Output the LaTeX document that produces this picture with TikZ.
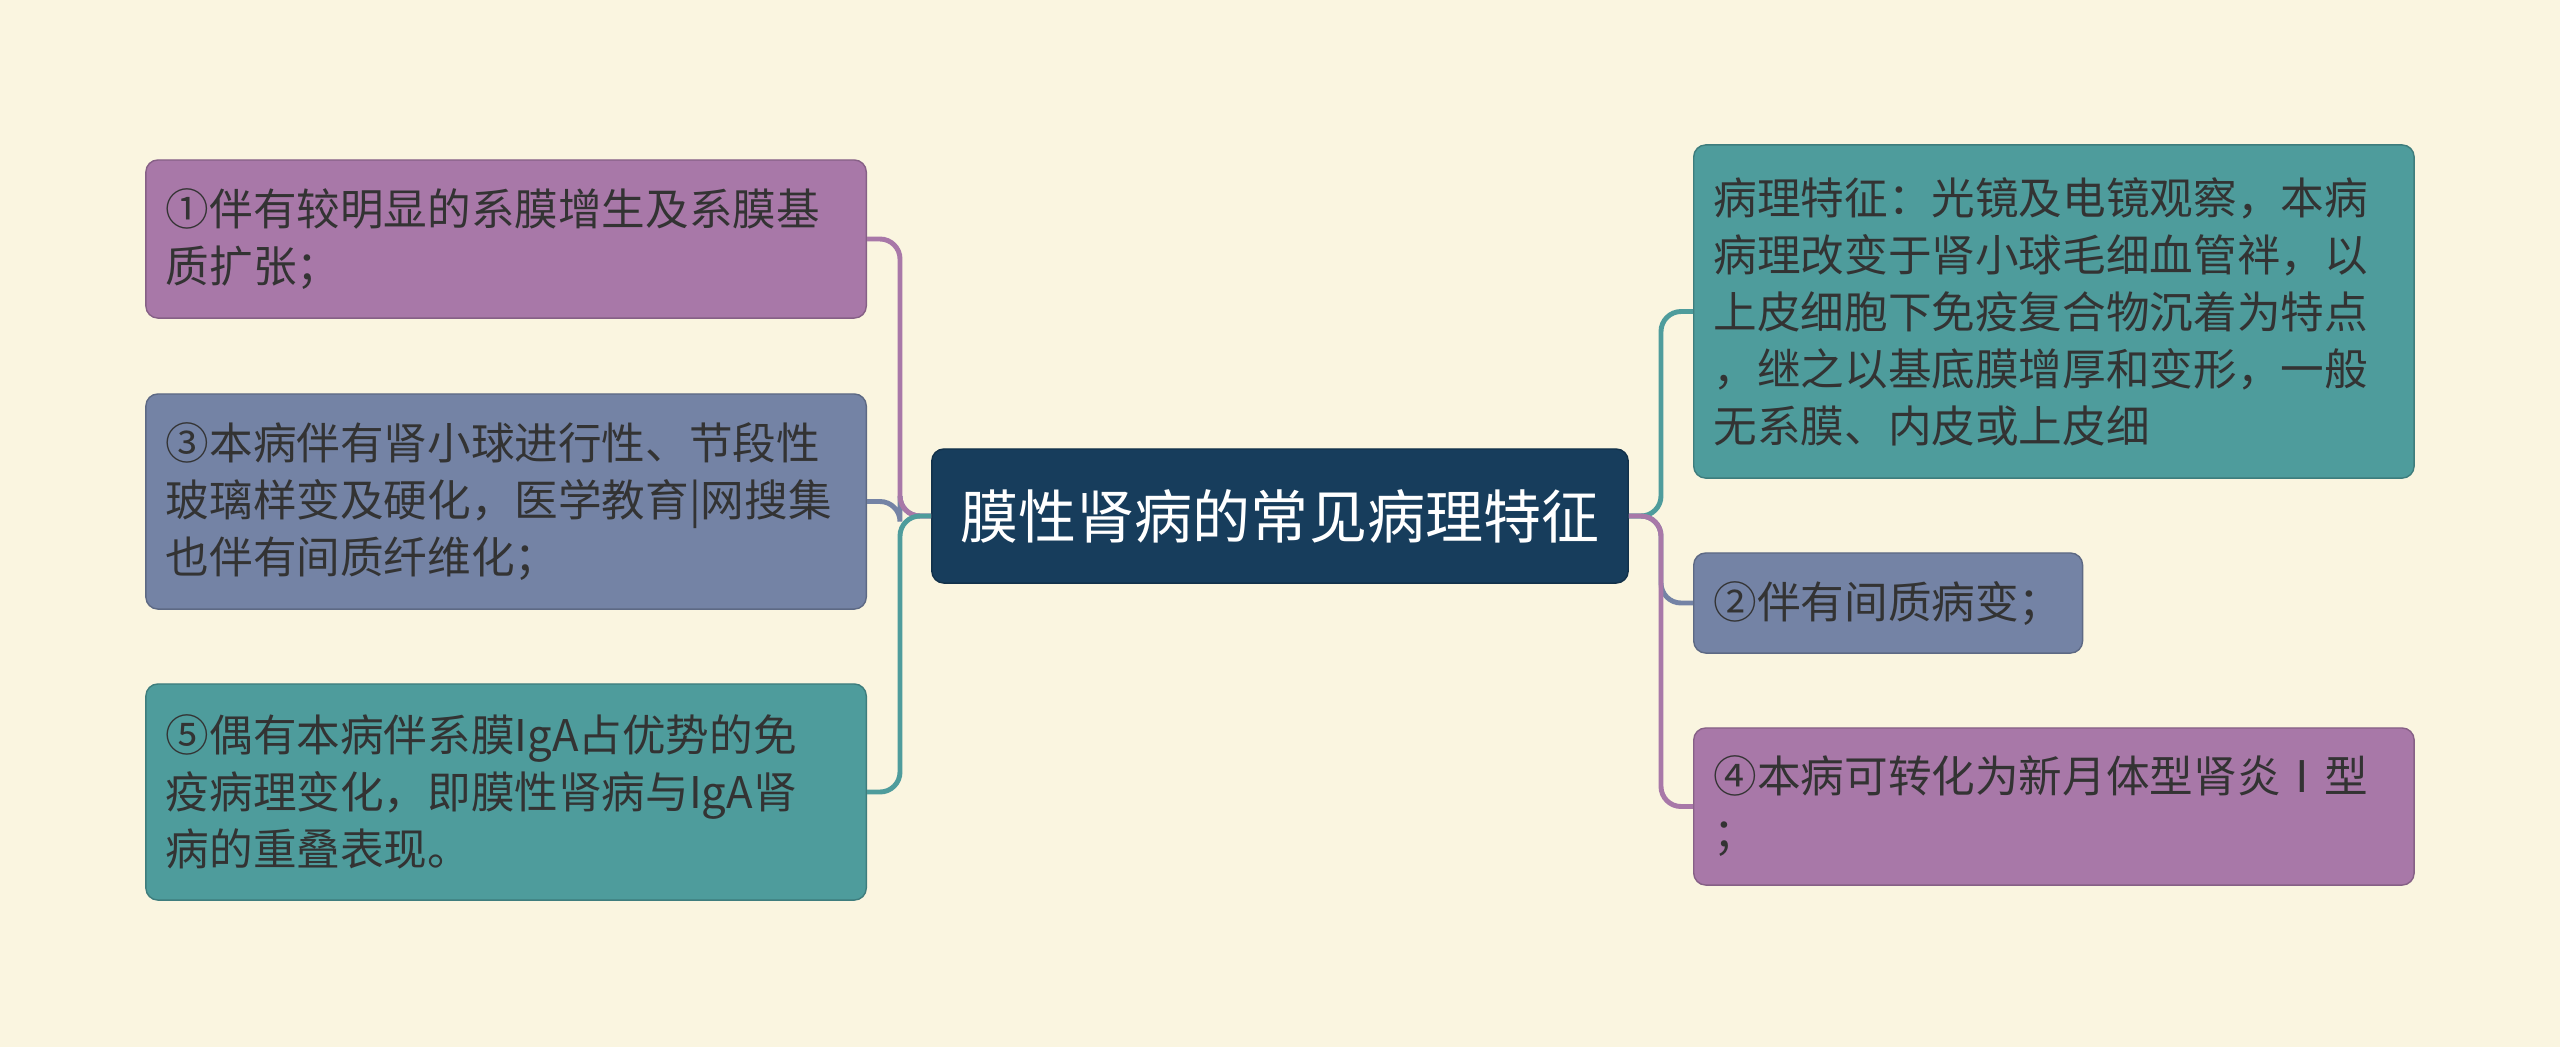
\documentclass[tikz,border=0pt]{standalone}
\usepackage{fontspec}
\newfontfamily\cjk{Noto Sans CJK SC}
\definecolor{bgcream}{RGB}{250, 245, 224}
\definecolor{leafpurple}{RGB}{168, 120, 168}
\definecolor{leafslate}{RGB}{116, 131, 165}
\definecolor{leafteal}{RGB}{78, 156, 156}
\definecolor{rootnavy}{RGB}{23, 61, 92}
\definecolor{textdark}{RGB}{51, 51, 51}
\usetikzlibrary{positioning}
\tikzset{
  leaf/.style={rounded corners=0.12cm, inner xsep=0.2cm, inner ysep=0cm, align=left,
    text=textdark, line width=0.4pt, font=\cjk\fontsize{12.4pt}{16.2pt}\selectfont},
  leafwide/.style={leaf, text width=6.8cm},
  branch/.style={line width=1.4pt, rounded corners=0.2cm},
}

\begin{document}
\begin{tikzpicture}[x=0.01cm, y=-0.01cm]
  \fill[bgcream] (0,0) rectangle (2560,1047);
  \useasboundingbox (0,0) rectangle (2560,1047);

  % Root
  \node[fill=rootnavy, draw=rootnavy!80!black, rounded corners=0.12cm, minimum width=6.96cm, minimum height=1.34cm,
    text=white, font=\cjk\fontsize{16.5pt}{20pt}\selectfont] (root) at (1280,516) {膜性肾病的常见病理特征};

  % Left side
  \node[leafwide, fill=leafpurple, draw=leafpurple!80!black, minimum height=1.58cm, anchor=east] (lone) at (867,239) {
    ①伴有较明显的系膜增生及系膜基\\质扩张；};
  \node[leafwide, fill=leafslate, draw=leafslate!80!black, minimum height=2.15cm, anchor=east] (lthree) at (867,501.5) {
    ③本病伴有肾小球进行性、节段性\\玻璃样变及硬化，医学教育|网搜集\\也伴有间质纤维化；};
  \node[leafwide, fill=leafteal, draw=leafteal!80!black, minimum height=2.16cm, anchor=east] (lfive) at (867,792) {
    ⑤偶有本病伴系膜IgA占优势的免\\疫病理变化，即膜性肾病与IgA肾\\病的重叠表现。};

  % Right side
  \node[leafwide, fill=leafteal, draw=leafteal!80!black, minimum height=3.33cm, anchor=west] (rfeat) at (1693,311.5) {
    病理特征：光镜及电镜观察，本病\\病理改变于肾小球毛细血管袢，以\\上皮细胞下免疫复合物沉着为特点\\，继之以基底膜增厚和变形，一般\\无系膜、内皮或上皮细};
  \node[leaf, fill=leafslate, draw=leafslate!80!black, minimum height=1.0cm, anchor=west] (rtwo) at (1693,603) {
    ②伴有间质病变；};
  \node[leafwide, fill=leafpurple, draw=leafpurple!80!black, minimum height=1.57cm, anchor=west] (rfour) at (1693,806.5) {
    ④本病可转化为新月体型肾炎Ⅰ型\\；};

  % Branches
  \coordinate (ltrunk) at (900,516);
  \coordinate (rtrunk) at (1661,516);
  \draw[branch, leafslate] (root.west) -- (ltrunk) |- (lthree.east);
  \draw[branch, leafpurple] (root.west) -- (ltrunk) |- (lone.east);
  \draw[branch, leafteal] (root.west) -- (ltrunk) |- (lfive.east);
  \draw[branch, leafslate] (root.east) -- (rtrunk) |- (rtwo.west);
  \draw[branch, leafteal] (root.east) -- (rtrunk) |- (rfeat.west);
  \draw[branch, leafpurple] (root.east) -- (rtrunk) |- (rfour.west);
\end{tikzpicture}
\end{document}
